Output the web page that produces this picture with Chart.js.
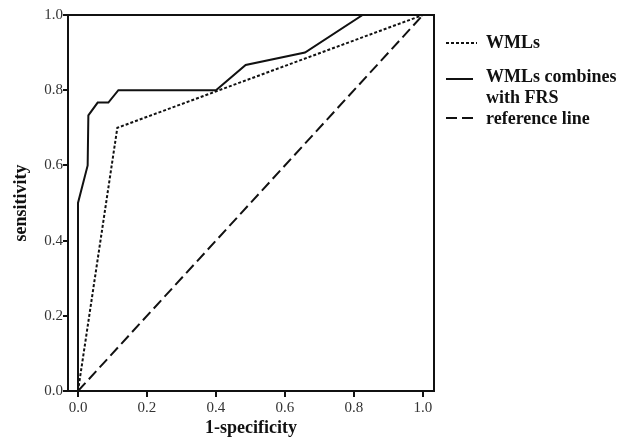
<!DOCTYPE html>
<html lang="en">
  <head>
    <meta charset="UTF-8" />
    <title>ROC curves</title>
    <style>
      html, body { margin: 0; padding: 0; background: #fff; }
      #wrap { width: 631px; height: 442px; }
    </style>
  </head>
  <body>
    <div id="wrap"><canvas id="myChart" width="631" height="442"></canvas></div>

    <script src="https://cdn.jsdelivr.net/npm/chart.js"></script>
    <script>
      // ROC points
      const comboX = [0, 0, 0.028, 0.03, 0.057, 0.088, 0.117, 0.4, 0.486, 0.658, 0.825, 1];
      const comboY = [0, 0.5, 0.6, 0.733, 0.767, 0.767, 0.8, 0.8, 0.867, 0.9, 1, 1];
      const wmlX = [0, 0.114, 1];
      const wmlY = [0, 0.7, 1];
      const refX = [0, 1];
      const refY = [0, 1];
      const tickValues = [0, 0.2, 0.4, 0.6, 0.8, 1.0];
      const legendLabels = ["WMLs", ["WMLs combines", "with FRS"], "reference line"];

      const serif = "'Liberation Serif', 'Times New Roman', serif";

      function toPoints(xs, ys) {
        return xs.map((x, i) => ({ x: x, y: ys[i] }));
      }

      // frame round the plot + hand drawn legend
      const framePlugin = {
        id: "frame",
        afterDraw(chart) {
          const ctx = chart.ctx;
          const a = chart.chartArea;
          ctx.save();
          ctx.strokeStyle = "#111";
          ctx.lineWidth = 2;
          ctx.strokeRect(a.left, a.top, a.right - a.left, a.bottom - a.top);

          // legend
          const samples = [
            { y: 43, dash: [3, 2], x1: 446, x2: 477 },
            { y: 79, dash: [], x1: 446, x2: 473 },
            { y: 118, dash: [11, 5], x1: 446, x2: 473 },
          ];
          samples.forEach((s) => {
            ctx.beginPath();
            ctx.setLineDash(s.dash);
            ctx.lineWidth = 2;
            ctx.moveTo(s.x1, s.y);
            ctx.lineTo(s.x2, s.y);
            ctx.stroke();
          });
          ctx.setLineDash([]);
          ctx.fillStyle = "#111";
          ctx.font = "bold 18px " + serif;
          ctx.textBaseline = "middle";
          ctx.fillText(legendLabels[0], 486, 43);
          ctx.fillText(legendLabels[1][0], 486, 77);
          ctx.fillText(legendLabels[1][1], 486, 98);
          ctx.fillText(legendLabels[2], 486, 119);
          ctx.restore();
        },
      };

      const chart = new Chart("myChart", {
        type: "scatter",
        data: {
          datasets: [
            {
              label: "WMLs",
              data: toPoints(wmlX, wmlY),
              showLine: true,
              borderColor: "#111",
              borderWidth: 2,
              borderDash: [3, 2],
              pointRadius: 0,
              fill: false,
            },
            {
              label: "WMLs combines with FRS",
              data: toPoints(comboX, comboY),
              showLine: true,
              borderColor: "#111",
              borderWidth: 2,
              pointRadius: 0,
              fill: false,
            },
            {
              label: "reference line",
              data: toPoints(refX, refY),
              showLine: true,
              borderColor: "#111",
              borderWidth: 2,
              borderDash: [11, 5],
              pointRadius: 0,
              fill: false,
            },
          ],
        },
        options: {
          responsive: false,
          animation: false,
          layout: { padding: { top: 15, right: 197, left: 0, bottom: 0 } },
          plugins: {
            legend: { display: false },
            tooltip: { enabled: false },
          },
          scales: {
            x: {
              type: "linear",
              min: -0.029,
              max: 1.032,
              afterBuildTicks: (s) => { s.ticks = tickValues.map((v) => ({ value: v })); },
              afterFit: (s) => { s.height = 51; },
              grid: { drawOnChartArea: false, drawTicks: true, tickLength: 6, color: "#111", lineWidth: 2 },
              border: { display: false },
              ticks: {
                color: "#333",
                font: { family: serif, size: 15 },
                padding: 2,
                maxRotation: 0,
                callback: (v) => Number(v).toFixed(1),
              },
              title: {
                display: true,
                text: "1-specificity",
                color: "#111",
                font: { family: serif, size: 18, weight: "bold" },
                padding: { top: 3, bottom: 3 },
              },
            },
            y: {
              type: "linear",
              min: 0,
              max: 1,
              afterBuildTicks: (s) => { s.ticks = tickValues.map((v) => ({ value: v })); },
              afterFit: (s) => { s.width = 68; },
              grid: { drawOnChartArea: false, drawTicks: true, tickLength: 5, color: "#111", lineWidth: 2 },
              border: { display: false },
              ticks: {
                color: "#333",
                font: { family: serif, size: 15 },
                padding: 0,
                callback: (v) => Number(v).toFixed(1),
              },
              title: {
                display: true,
                text: "sensitivity",
                color: "#111",
                font: { family: serif, size: 18, weight: "bold" },
                padding: { top: 11, bottom: 11 },
              },
            },
          },
        },
        plugins: [framePlugin],
      });
    </script>
  </body>
</html>
